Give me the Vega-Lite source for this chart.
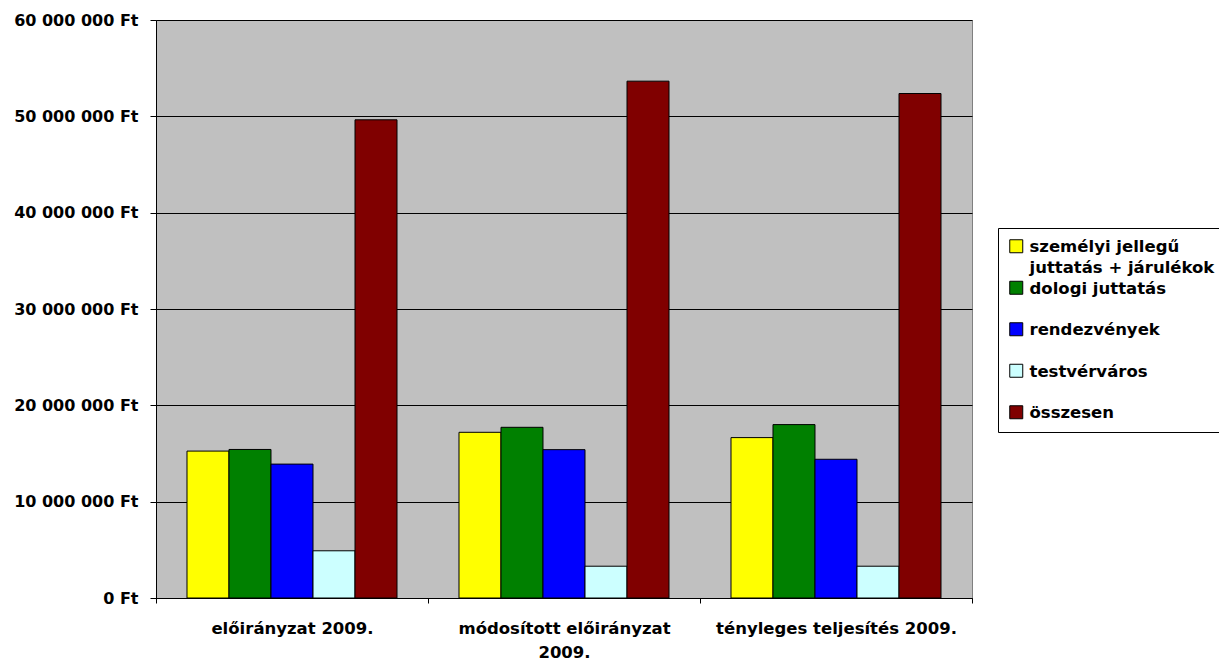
{
  "$schema": "https://vega.github.io/schema/vega-lite/v6.json",
  "width": 816,
  "height": 578,
  "autosize": {"type": "none"},
  "padding": {"left": 156, "top": 20, "right": 247, "bottom": 64},
  "background": "white",
  "data": {
    "values": [
      {"category": "előirányzat 2009.", "series": "személyi jellegű juttatás + járulékok", "value": 15250000},
      {"category": "előirányzat 2009.", "series": "dologi juttatás", "value": 15420000},
      {"category": "előirányzat 2009.", "series": "rendezvények", "value": 13900000},
      {"category": "előirányzat 2009.", "series": "testvérváros", "value": 4900000},
      {"category": "előirányzat 2009.", "series": "összesen", "value": 49640000},
      {"category": "módosított előirányzat 2009.", "series": "személyi jellegű juttatás + járulékok", "value": 17200000},
      {"category": "módosított előirányzat 2009.", "series": "dologi juttatás", "value": 17720000},
      {"category": "módosított előirányzat 2009.", "series": "rendezvények", "value": 15400000},
      {"category": "módosított előirányzat 2009.", "series": "testvérváros", "value": 3300000},
      {"category": "módosított előirányzat 2009.", "series": "összesen", "value": 53650000},
      {"category": "tényleges teljesítés 2009.", "series": "személyi jellegű juttatás + járulékok", "value": 16650000},
      {"category": "tényleges teljesítés 2009.", "series": "dologi juttatás", "value": 18000000},
      {"category": "tényleges teljesítés 2009.", "series": "rendezvények", "value": 14400000},
      {"category": "tényleges teljesítés 2009.", "series": "testvérváros", "value": 3300000},
      {"category": "tényleges teljesítés 2009.", "series": "összesen", "value": 52370000}
    ]
  },
  "mark": {"type": "bar", "stroke": "black", "strokeWidth": 1},
  "encoding": {
    "x": {
      "field": "category",
      "type": "nominal",
      "sort": ["előirányzat 2009.", "módosított előirányzat 2009.", "tényleges teljesítés 2009."],
      "scale": {"paddingInner": 0, "paddingOuter": 0},
      "axis": {
        "title": null,
        "labelAngle": 0,
        "tickBand": "extent",
        "grid": false,
        "domainColor": "black",
        "tickColor": "black",
        "tickSize": 5,
        "labelPadding": 17,
        "labelFont": "DejaVu Sans",
        "labelFontWeight": "bold",
        "labelFontSize": 16.5,
        "labelColor": "black",
        "labelLineHeight": 24,
        "labelBaseline": "top",
        "labelLimit": 0,
        "labelExpr": "datum.label == 'módosított előirányzat 2009.' ? ['módosított előirányzat', '2009.'] : datum.label"
      }
    },
    "xOffset": {
      "field": "series",
      "sort": ["személyi jellegű juttatás + járulékok", "dologi juttatás", "rendezvények", "testvérváros", "összesen"],
      "scale": {"paddingInner": 0, "paddingOuter": 0.738}
    },
    "y": {
      "field": "value",
      "type": "quantitative",
      "scale": {"domain": [0, 60000000]},
      "axis": {
        "title": null,
        "values": [0, 10000000, 20000000, 30000000, 40000000, 50000000, 60000000],
        "labelExpr": "replace(format(datum.value, ','), regexp(',', 'g'), ' ') + ' Ft'",
        "grid": true,
        "gridColor": "black",
        "gridOpacity": 1,
        "gridWidth": 1,
        "domainColor": "black",
        "tickColor": "black",
        "tickSize": 6,
        "labelPadding": 12,
        "labelFont": "DejaVu Sans",
        "labelFontWeight": "bold",
        "labelFontSize": 16,
        "labelColor": "black"
      }
    },
    "color": {
      "field": "series",
      "type": "nominal",
      "sort": ["személyi jellegű juttatás + járulékok", "dologi juttatás", "rendezvények", "testvérváros", "összesen"],
      "scale": {
        "domain": ["személyi jellegű juttatás + járulékok", "dologi juttatás", "rendezvények", "testvérváros", "összesen"],
        "range": ["#FFFF00", "#008000", "#0000FF", "#CCFFFF", "#800000"]
      },
      "legend": {
        "title": null,
        "orient": "none",
        "legendX": 842,
        "legendY": 208,
        "strokeColor": "black",
        "fillColor": "white",
        "padding": 10,
        "symbolType": "square",
        "symbolSize": 169,
        "symbolStrokeColor": "black",
        "symbolStrokeWidth": 1,
        "symbolOpacity": 1,
        "labelFont": "DejaVu Sans",
        "labelFontWeight": "bold",
        "labelFontSize": 16.5,
        "labelColor": "black",
        "labelLimit": 0,
        "labelOffset": 5,
        "labelBaseline": "alphabetic",
        "rowPadding": 1.5,
        "gridAlign": "all",
        "labelExpr": "datum.label == 'személyi jellegű juttatás + járulékok' ? ['személyi jellegű', 'juttatás + járulékok'] : datum.label",
        "encode": {"labels": {"update": {"dy": {"value": 6}, "lineHeight": {"value": 21}}}}
      }
    }
  },
  "config": {"view": {"fill": "#C0C0C0", "stroke": "#808080"}}
}
